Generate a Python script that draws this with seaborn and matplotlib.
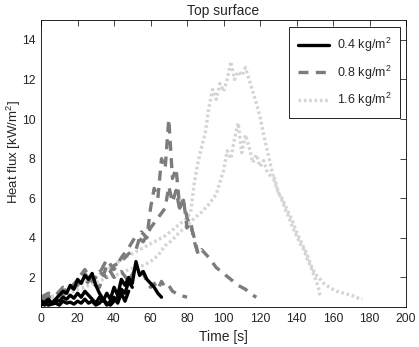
import matplotlib
matplotlib.use("Agg")
import matplotlib.pyplot as plt
from matplotlib.lines import Line2D
import seaborn as sns
import pandas as pd

# 0.4 kg/m2 (black, solid)
b1_t = [0, 2, 4, 6, 8, 10, 12, 14, 16, 18, 20, 22, 24, 26, 28, 30, 32, 34, 36, 38, 40, 42, 44, 46, 48, 50, 52, 54, 56, 58, 60, 62, 64, 66]
b1_y = [0.8, 0.75, 0.9, 0.7, 0.85, 0.8, 1.0, 0.9, 1.1, 0.95, 1.2, 1.0, 1.3, 1.1, 0.9, 0.7, 1.0, 0.8, 1.2, 0.9, 1.5, 1.1, 1.9, 1.6, 2.0, 1.7, 2.8, 2.1, 2.3, 1.9, 1.7, 1.5, 1.2, 1.0]
b2_t = [0, 2, 4, 6, 8, 10, 12, 14, 16, 18, 20, 22, 24, 26, 28, 30, 32, 34, 36, 38, 40, 42, 44, 46, 48, 50]
b2_y = [0.7, 0.6, 0.8, 0.7, 0.9, 1.1, 1.3, 1.2, 1.6, 1.4, 1.9, 1.7, 2.1, 1.9, 2.2, 1.6, 1.2, 0.9, 0.7, 0.6, 0.8, 1.0, 1.4, 1.2, 1.8, 1.5]
b3_t = [0, 2, 4, 6, 8, 10, 12, 14, 16, 18, 20, 22, 24, 26, 28, 30, 32, 34, 36, 38, 40, 42, 44, 46, 48]
b3_y = [0.6, 0.7, 0.6, 0.65, 0.7, 0.6, 0.8, 0.7, 0.75, 0.65, 0.8, 0.7, 0.9, 0.7, 0.8, 0.6, 0.7, 0.9, 0.6, 0.8, 1.0, 0.7, 1.2, 0.8, 1.3]

# 0.8 kg/m2 (gray, dashed)
g1_t = [0, 4, 8, 12, 16, 20, 24, 28, 32, 36, 40, 44, 48, 52, 55, 58, 60, 62, 64, 66, 68, 70, 72, 74, 76, 78, 80, 82, 84, 86, 88, 92, 96, 100, 104, 108, 112, 116, 118]
g1_y = [0.9, 1.0, 1.1, 1.3, 1.5, 1.8, 1.6, 2.0, 2.3, 2.0, 2.6, 2.8, 3.2, 3.4, 4.3, 4.0, 5.5, 6.5, 6.0, 8.0, 7.5, 10.0, 7.0, 7.5, 5.5, 6.0, 4.5, 4.8, 3.8, 3.2, 3.4, 3.0, 2.5, 2.2, 1.9, 1.6, 1.4, 1.1, 1.0]
g2_t = [0, 4, 8, 12, 16, 20, 24, 28, 32, 36, 40, 44, 48, 52, 56, 60, 64, 68, 70, 72, 74, 76, 78, 80, 82, 84, 86]
g2_y = [1.0, 1.2, 1.1, 1.5, 1.4, 1.9, 2.4, 1.8, 2.2, 2.9, 2.4, 3.0, 3.5, 4.1, 3.8, 4.5, 5.0, 5.5, 6.6, 5.8, 6.4, 5.4, 5.9, 5.0, 4.6, 4.0, 3.2]
g3_t = [0, 4, 8, 12, 16, 20, 24, 28, 32, 36, 40, 44, 48, 52, 56, 58, 60, 62, 64, 66, 68, 70, 72, 76, 80]
g3_y = [0.9, 1.0, 1.2, 1.1, 1.4, 1.6, 2.2, 1.7, 1.5, 2.6, 2.0, 2.3, 1.8, 2.5, 2.2, 1.8, 1.5, 1.7, 1.4, 1.8, 1.5, 1.6, 1.3, 1.1, 1.0]

# 1.6 kg/m2 (light gray, dotted)
l1_t = [0, 4, 8, 12, 16, 20, 24, 28, 32, 36, 40, 44, 48, 52, 56, 60, 64, 68, 72, 76, 80, 82, 84, 86, 88, 90, 92, 94, 96, 98, 100, 102, 104, 106, 108, 110, 112, 114, 116, 118, 120, 122, 124, 126, 128, 130, 132, 134, 136, 138, 140, 142, 144, 146, 148, 150, 152, 153]
l1_y = [0.9, 1.0, 1.1, 1.3, 1.4, 1.6, 1.8, 1.9, 2.1, 2.4, 2.6, 2.9, 3.1, 3.3, 3.5, 3.7, 3.9, 4.1, 4.4, 4.7, 5.0, 5.3, 6.8, 7.8, 8.6, 9.3, 10.6, 11.5, 11.0, 11.8, 11.4, 12.0, 12.9, 12.0, 12.4, 12.2, 12.6, 12.0, 11.4, 10.8, 10.1, 9.2, 8.4, 7.6, 6.8, 6.3, 5.9, 5.4, 5.0, 4.5, 4.1, 3.7, 3.4, 2.9, 2.5, 2.0, 1.5, 1.0]
l2_t = [0, 4, 8, 12, 16, 20, 24, 28, 32, 36, 40, 44, 48, 52, 56, 60, 64, 68, 72, 76, 80, 84, 88, 92, 96, 98, 100, 102, 104, 106, 108, 110, 112, 114, 116, 118, 120, 122, 124, 126, 128, 130, 132, 134, 136, 138, 140, 142, 144, 146, 148, 150, 152, 155, 158, 162, 166, 170, 174, 176]
l2_y = [0.8, 0.9, 1.0, 1.1, 1.2, 1.4, 1.5, 1.7, 1.8, 2.0, 2.1, 2.2, 2.4, 2.5, 2.6, 2.8, 3.1, 3.6, 3.9, 4.3, 4.6, 5.0, 5.3, 5.7, 6.2, 6.8, 7.4, 8.4, 8.0, 9.0, 9.8, 8.3, 9.2, 8.6, 7.8, 8.2, 7.6, 7.9, 7.3, 7.1, 7.0, 6.3, 6.0, 5.6, 5.2, 4.8, 4.3, 3.9, 3.5, 3.1, 2.6, 2.2, 2.0, 1.7, 1.5, 1.3, 1.2, 1.1, 0.95, 0.9]

labels = ["0.4 kg/m$^2$", "0.8 kg/m$^2$", "1.6 kg/m$^2$"]
colors = ["black", "#7c7c7c", "#d4d4d4"]
styles = ["-", (0, (3, 2.2)), (0, (0.8, 0.8))]
runs = [[(b1_t, b1_y), (b2_t, b2_y), (b3_t, b3_y)],
        [(g1_t, g1_y), (g2_t, g2_y), (g3_t, g3_y)],
        [(l1_t, l1_y), (l2_t, l2_y)]]

sns.set_style("white")
plt.rcParams["font.family"] = ["Liberation Sans", "DejaVu Sans"]
plt.rcParams["mathtext.default"] = "regular"

fig = plt.figure(figsize=(4.19, 3.47), dpi=100)
ax = fig.add_axes([0.098, 0.115, 0.871, 0.827])

# lightest first so black ends on top
for i in [2, 1, 0]:
    rows = []
    for k, (t, y) in enumerate(runs[i]):
        for tt, yy in zip(t, y):
            rows.append({"time": tt, "flux": yy, "run": k})
    df = pd.DataFrame(rows)
    sns.lineplot(data=df, x="time", y="flux", units="run", estimator=None,
                 sort=False, color=colors[i], linestyle=styles[i], lw=2.4, ax=ax)

ax.set_xlim(0, 200)
ax.set_ylim(0.5, 15)
ax.set_xticks(range(0, 201, 20))
ax.set_yticks(range(2, 15, 2))
ax.tick_params(direction="in", top=True, right=True, length=4, width=0.6, labelsize=8.8, pad=4)
for s in ax.spines.values():
    s.set_linewidth(0.6)
    s.set_color("black")
ax.set_title("Top surface", fontsize=10, pad=4)
ax.set_xlabel("Time [s]", fontsize=10, labelpad=4)
ax.set_ylabel("Heat flux [kW/m$^2$]", fontsize=9.5)
ax.yaxis.set_label_coords(-0.05, 0.54)

handles = [Line2D([0], [0], color=colors[i], linestyle=styles[i], lw=2.4) for i in range(3)]
leg = ax.legend(handles, labels, loc="upper right", bbox_to_anchor=(0.984, 0.976),
                borderaxespad=0, fancybox=False, edgecolor="black", framealpha=1,
                fontsize=9, handlelength=2.5, handletextpad=0.6,
                labelspacing=0.75, borderpad=0.7)
leg.get_frame().set_linewidth(0.6)

fig.savefig("out.png", dpi=100)
